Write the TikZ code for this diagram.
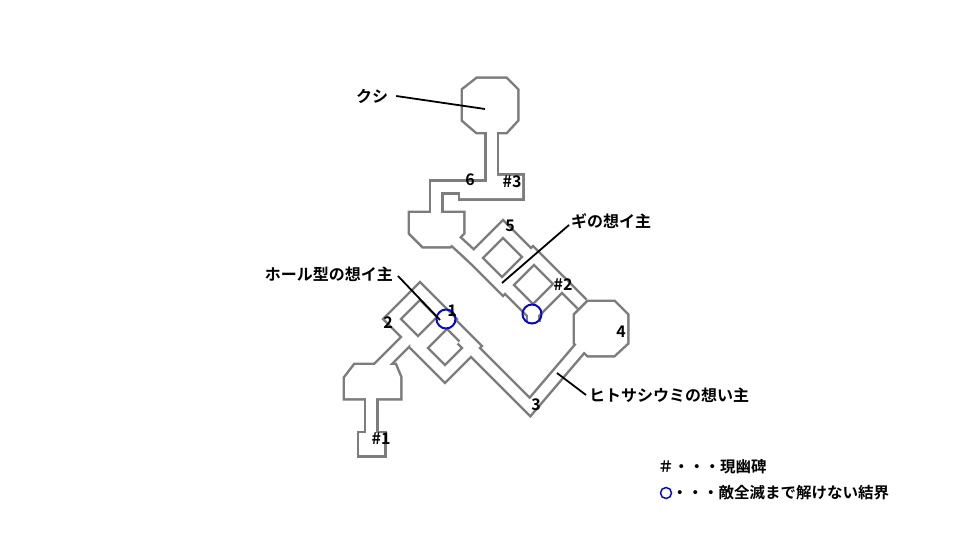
\documentclass[tikz,border=0pt]{standalone}
\usepackage{fontspec}
\setmainfont{Noto Sans CJK JP}[BoldFont={Noto Sans CJK JP Bold}]
\definecolor{mg}{RGB}{125,125,125}
\definecolor{bl}{RGB}{10,10,200}
\newcommand\mymap{%
 \path[room] (477,79)--(506,79)--(517,90)--(517,120)--(506,132)--(477,132)--(463,120)--(463,90)--cycle;
 \path[room] (496,176)--(522,176)--(522,198)--(460,198)--(460,190)--(496,190)--cycle;
 \path[room] (410,213)--(463,213)--(463,233)--(450,246)--(423,246)--(410,233)--cycle;
 \path[room] (588,302)--(614,302)--(627,315)--(627,343)--(614,355)--(588,355)--(575,343)--(575,315)--cycle;
 \path[room] (355,365)--(395,365)--(400,377)--(400,398)--(345,398)--(345,378)--cycle;
 \path[room] (359,433)--(384,433)--(384,455)--(359,455)--cycle;
 \path[corr] (491.5,125)--(491.5,187);
 \path[corr] (500,187)--(436,187)--(436,218);
 \path[corr] (450,236)--(475,259);
 \path[corr] (503,229)--(532,258)--(503,287)--(474,258)--cycle;
 \path[corr] (533,255)--(562,284)--(533,313)--(504,284)--cycle;
 \path[corr] (533,313)--(533,322);
 \path[corr] (560,282)--(582,304);
 \path[corr] (582,346)--(530,407)--(462,339);
 \path[corr] (420,291)--(448,319)--(420,347)--(392,319)--cycle;
 \path[corr] (445,318)--(473,346)--(445,374)--(417,346)--cycle;
 \path[corr] (410,337)--(375,372);
 \path[corr] (371,390)--(371,440);
}
\begin{document}
\begin{tikzpicture}[x=1pt,y=-1pt,line join=miter,
  lab/.style={font=\fontsize{16}{18}\selectfont\bfseries,inner sep=0pt},
  lead/.style={draw=black,line width=1.8pt},
  ring/.style={draw=bl,line width=2pt}]
\useasboundingbox[fill=white] (0,0) rectangle (960,540);
\begin{scope}[room/.style={draw=mg,fill=mg,line width=5pt},corr/.style={draw=mg,line width=15pt}]
\mymap
\end{scope}
\begin{scope}[room/.style={fill=white},corr/.style={draw=white,line width=10pt}]
\mymap
\end{scope}
\node[ring,circle,minimum size=19pt,inner sep=0pt] (c1) at (446,319) {};
\node[ring,circle,minimum size=19pt,inner sep=0pt] (c2) at (532,314) {};
\node[lab] (kushi) at (372,96) {クシ};
\coordinate (kushiend) at (485,109);
\draw[lead] (kushi.east)++(8,0) -- (kushiend);
\node[lab,anchor=west] (gi) at (571,221) {ギの想イ主};
\coordinate (giend) at (502,283);
\draw[lead] (gi.west)++(-2,4) -- (giend);
\node[lab,anchor=east] (hole) at (393,274) {ホール型の想イ主};
\coordinate (holeend) at (440,320);
\draw[lead] (hole.east)++(5,2) -- (holeend);
\node[lab,anchor=west] (hito) at (589,395) {ヒトサシウミの想い主};
\coordinate (hitoend) at (557,373);
\draw[lead] (hito.west)++(-3,0) -- (hitoend);
\node[lab] (n6) at (470,180) {6};
\node[lab] (n3s) at (512,182) {\#3};
\node[lab] (n5) at (510,226) {5};
\node[lab] (n2s) at (563,285) {\#2};
\node[lab] (n1) at (452,311) {1};
\node[lab] (n2) at (388,323) {2};
\node[lab] (n4) at (621,332) {4};
\node[lab] (n3) at (536,405) {3};
\node[lab] (n1s) at (381,439) {\#1};
\node[lab,anchor=west,font=\fontsize{15.5}{17}\selectfont\bfseries] (leg1) at (658,467) {＃・・・現幽碑};
\node[ring,circle,minimum size=11pt,inner sep=0pt,line width=1.5pt] (legc) at (666,493) {};
\node[lab,anchor=west,font=\fontsize{15.5}{17}\selectfont\bfseries] (leg2) at (672,493) {・・・敵全滅まで解けない結界};
\end{tikzpicture}
\end{document}
